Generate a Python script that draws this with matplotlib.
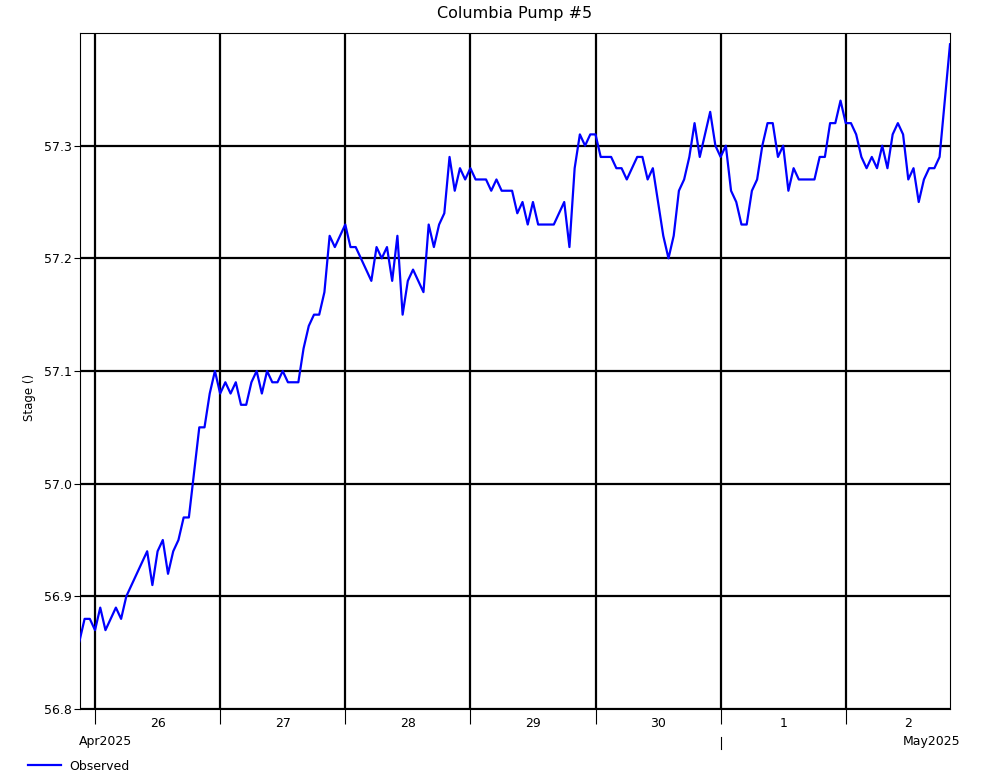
import pandas as pd
import matplotlib
matplotlib.use('Agg')
import matplotlib.pyplot as plt
import matplotlib.dates as mdates

# hourly stage readings, Apr 25 21:00 -> May 2 20:00
start = '2025-04-25 21:00'
stage = [
    56.86, 56.88, 56.88,
    # Apr 26
    56.87, 56.89, 56.87, 56.88, 56.89, 56.88, 56.90, 56.91, 56.92, 56.93, 56.94, 56.91,
    56.94, 56.95, 56.92, 56.94, 56.95, 56.97, 56.97, 57.01, 57.05, 57.05, 57.08, 57.10,
    # Apr 27
    57.08, 57.09, 57.08, 57.09, 57.07, 57.07, 57.09, 57.10, 57.08, 57.10, 57.09, 57.09,
    57.10, 57.09, 57.09, 57.09, 57.12, 57.14, 57.15, 57.15, 57.17, 57.22, 57.21, 57.22,
    # Apr 28
    57.23, 57.21, 57.21, 57.20, 57.19, 57.18, 57.21, 57.20, 57.21, 57.18, 57.22, 57.15,
    57.18, 57.19, 57.18, 57.17, 57.23, 57.21, 57.23, 57.24, 57.29, 57.26, 57.28, 57.27,
    # Apr 29
    57.28, 57.27, 57.27, 57.27, 57.26, 57.27, 57.26, 57.26, 57.26, 57.24, 57.25, 57.23,
    57.25, 57.23, 57.23, 57.23, 57.23, 57.24, 57.25, 57.21, 57.28, 57.31, 57.30, 57.31,
    # Apr 30
    57.31, 57.29, 57.29, 57.29, 57.28, 57.28, 57.27, 57.28, 57.29, 57.29, 57.27, 57.28,
    57.25, 57.22, 57.20, 57.22, 57.26, 57.27, 57.29, 57.32, 57.29, 57.31, 57.33, 57.30,
    # May 1
    57.29, 57.30, 57.26, 57.25, 57.23, 57.23, 57.26, 57.27, 57.30, 57.32, 57.32, 57.29,
    57.30, 57.26, 57.28, 57.27, 57.27, 57.27, 57.27, 57.29, 57.29, 57.32, 57.32, 57.34,
    # May 2
    57.32, 57.32, 57.31, 57.29, 57.28, 57.29, 57.28, 57.30, 57.28, 57.31, 57.32, 57.31,
    57.27, 57.28, 57.25, 57.27, 57.28, 57.28, 57.29, 57.34, 57.39,
]
times = pd.date_range(start, periods=len(stage), freq='h')

y_ticks = [56.8, 56.9, 57.0, 57.1, 57.2, 57.3]

plt.rcParams['font.family'] = ['DejaVu Sans']

fig = plt.figure(figsize=(10.01, 7.80), dpi=100)
ax = fig.add_axes([80 / 1001, 71 / 780, 870 / 1001, 676 / 780])

ax.plot(times, stage, color='#0000ff', linewidth=1.6, label='Observed', zorder=3)

ax.set_xlim(times[0] + pd.Timedelta(minutes=7), times[-1])
ax.set_ylim(56.8, 57.40)
ax.set_yticks(y_ticks)
ax.set_yticklabels(['%.1f' % v for v in y_ticks])

# day boundaries as major ticks, day numbers centred at noon
ax.xaxis.set_major_locator(mdates.DayLocator())
ax.xaxis.set_major_formatter(plt.NullFormatter())
ax.xaxis.set_minor_locator(mdates.HourLocator(byhour=12))
ax.xaxis.set_minor_formatter(mdates.DateFormatter('%-d'))
ax.tick_params(axis='x', which='major', length=11, width=0.8, direction='out')
ax.tick_params(axis='x', which='minor', length=0, pad=6, labelsize=9)
ax.tick_params(axis='y', length=4, width=0.8, labelsize=9, pad=2)

ax.grid(True, which='major', color='black', linewidth=1.6, zorder=1)
for s in ax.spines.values():
    s.set_linewidth(0.8)

ax.set_title('Columbia Pump #5', fontsize=11.5, pad=11)
fig.text(30 / 1001, 1 - 397 / 780, 'Stage ()', rotation=90, ha='center', va='center', fontsize=8.5)

# month row under the day labels
trans = ax.get_xaxis_transform()
ax.text(times[0], -0.048, 'Apr2025', transform=trans, ha='left', va='center', fontsize=9)
ax.text(pd.Timestamp('2025-05-02 11:00'), -0.048, 'May2025', transform=trans,
        ha='left', va='center', fontsize=9)
ax.plot([pd.Timestamp('2025-05-01'), pd.Timestamp('2025-05-01')], [-0.041, -0.059],
        transform=trans, color='black', linewidth=0.8, clip_on=False)

fig.legend(loc='lower left', bbox_to_anchor=(17 / 1001, -0.005), frameon=False, fontsize=9,
           handlelength=2.6, handletextpad=0.7)

fig.savefig('out.png', dpi=100)
